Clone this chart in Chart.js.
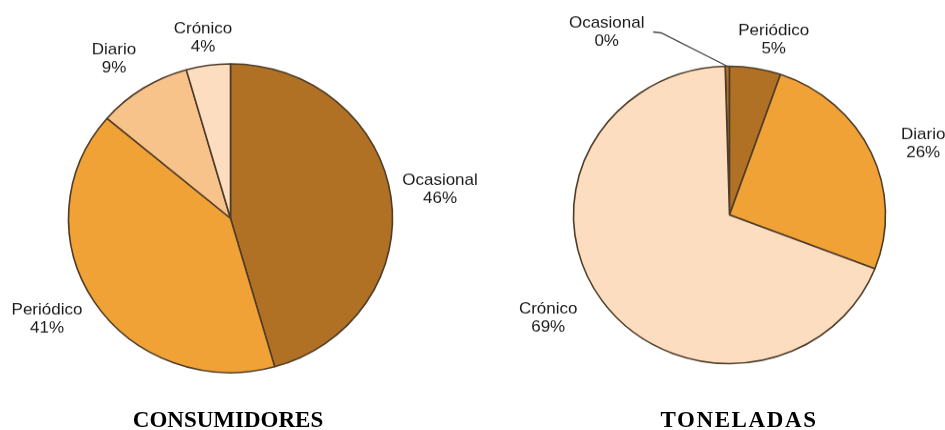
<!DOCTYPE html>
<html>
<head>
<meta charset="utf-8">
<script src="https://cdn.jsdelivr.net/npm/chart.js@4.4.0/dist/chart.umd.min.js"></script>
<style>
  html, body { margin: 0; padding: 0; background: #fff; width: 945px; height: 430px; overflow: hidden; position: relative; }
  /* the source picture is slightly squashed vertically, so the pies are too */
  .pie { position: absolute; top: 0; transform: scaleY(0.953); transform-origin: 0 0; }
  #boxLeft { left: 0; width: 490px; height: 460px; }
  #boxRight { left: 499px; width: 461px; height: 451px; }
  .title { position: absolute; top: 407px; width: 300px; line-height: 24px; text-align: center;
           font: bold 23px "Liberation Serif", "Times New Roman", serif; color: #000; }
</style>
</head>
<body>
<div id="boxLeft" class="pie"><canvas id="pieLeft"></canvas></div>
<div id="boxRight" class="pie"><canvas id="pieRight"></canvas></div>
<div class="title" style="left:78px">CONSUMIDORES</div>
<div class="title" style="left:589px; letter-spacing:1.6px">TONELADAS</div>
<script>
// categories and shares (%)
var categories = ['Ocasional', 'Periódico', 'Diario', 'Crónico'];
var consumidores = [45.6, 40.6, 9.4, 4.4];
var toneladas = [0.45, 5.3, 25.6, 68.65];

var brown = '#B07125', orange = '#F0A236', light = '#F8C28B', lightest = '#FCDDC0';

// label positions relative to the pie centre
var spotsLeft = [[209.5, -30.5], [-183.5, 105.4], [-116.5, -166.9], [-27.5, -188.9]];
var spotsRight = [[-122.8, -192], [44.2, -183.6], [193.7, -75], [-181.3, 108.1]];

// draws "name / pct%" next to each slice
var sliceLabels = {
  id: 'sliceLabels',
  afterDatasetsDraw: function(chart, args, opts) {
    var ctx = chart.ctx;
    var arcs = chart.getDatasetMeta(0).data;
    var values = chart.data.datasets[0].data;
    var total = values.reduce(function(a, b) { return a + b; }, 0);
    ctx.save();
    ctx.font = '17px "Liberation Sans", Arial, sans-serif';
    ctx.fillStyle = '#1a1a1a';
    ctx.textAlign = 'center';
    ctx.textBaseline = 'middle';
    arcs.forEach(function(arc, i) {
      var x = arc.x + opts.spots[i][0], y = arc.y + opts.spots[i][1];
      ctx.fillText(chart.data.labels[i], x, y - 9.5);
      ctx.fillText(Math.round(values[i] / total * 100) + '%', x, y + 9.5);
    });
    if (opts.leader) {
      var a = arcs[opts.leader.index];
      var mid = (a.startAngle + a.endAngle) / 2;
      ctx.strokeStyle = '#444';
      ctx.lineWidth = 1.3;
      ctx.beginPath();
      ctx.moveTo(a.x + opts.leader.from[0], a.y + opts.leader.from[1]);
      ctx.lineTo(a.x + opts.leader.elbow[0], a.y + opts.leader.elbow[1]);
      ctx.lineTo(a.x + Math.cos(mid) * a.outerRadius, a.y + Math.sin(mid) * a.outerRadius);
      ctx.stroke();
    }
    ctx.restore();
  }
};

function makePie(id, values, colors, radius, rotation, padding, labelOpts) {
  return new Chart(document.getElementById(id), {
    type: 'pie',
    data: {
      labels: categories,
      datasets: [{
        data: values,
        backgroundColor: colors,
        borderColor: '#4e3c28',
        borderWidth: 1.6
      }]
    },
    options: {
      responsive: true,
      maintainAspectRatio: false,
      animation: false,
      radius: radius,
      rotation: rotation,
      layout: { padding: padding },
      plugins: {
        legend: { display: false },
        tooltip: { enabled: false },
        sliceLabels: labelOpts
      }
    },
    plugins: [sliceLabels]
  });
}

makePie('pieLeft', consumidores, [brown, orange, light, lightest], 162, 0,
  { left: 0, right: 29, top: 0, bottom: 2 }, { spots: spotsLeft });

makePie('pieRight', toneladas, [brown, brown, orange, lightest], 156, -1.6,
  { left: 0, right: 0, top: 0, bottom: 0 },
  { spots: spotsRight, leader: { index: 0, from: [-76.3, -192], elbow: [-68.3, -191] } });
</script>
</body>
</html>
